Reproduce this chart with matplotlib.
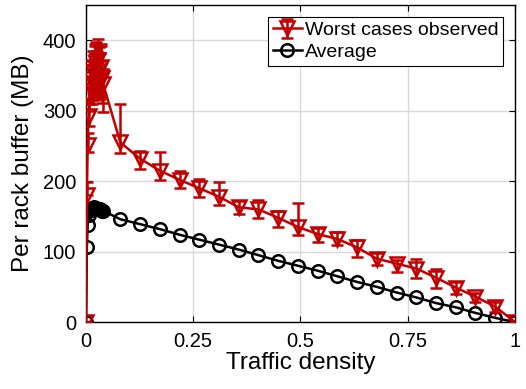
import numpy as np
import matplotlib
matplotlib.use("Agg")
import matplotlib.pyplot as plt

plt.rcParams['font.family'] = ['Liberation Sans', 'DejaVu Sans']

# traffic density
x = [0, 0.002, 0.004, 0.006, 0.008, 0.010, 0.012, 0.014, 0.016, 0.018, 0.020,
     0.022, 0.024, 0.026, 0.028, 0.030, 0.032, 0.034, 0.036, 0.038, 0.040,
     0.08, 0.126, 0.172, 0.218, 0.264, 0.31, 0.356, 0.402, 0.448, 0.494,
     0.54, 0.586, 0.632, 0.678, 0.724, 0.77, 0.816, 0.862, 0.908, 0.954, 1.0]

# worst cases observed (MB)
worst = [0, 180, 251, 293, 320, 335, 345, 330, 355, 340, 362, 350, 368, 345, 372,
         356, 342, 362, 350, 346, 338,
         255, 232, 215, 202, 190, 178, 163, 160, 148, 135,
         125, 118, 106, 90, 83, 76, 63, 49, 36, 22, 0]
worst_lo = [0, 0, 10, 15, 20, 25, 30, 20, 30, 25, 35, 30, 40, 25, 35,
            30, 25, 40, 30, 35, 40,
            15, 14, 13, 11, 12, 12, 9, 12, 13, 12,
            11, 9, 13, 9, 12, 14, 15, 9, 7, 7, 0]
worst_hi = [0, 19, 17, 20, 25, 30, 25, 35, 30, 40, 30, 45, 30, 40, 30,
            35, 40, 30, 45, 25, 20,
            54, 11, 26, 12, 13, 21, 9, 14, 10, 34,
            8, 10, 11, 8, 5, 13, 13, 8, 5, 7, 0]

# average (MB)
average = [0, 107, 138, 152, 157, 160, 161, 162, 162, 163, 162, 162, 162, 161, 161,
           160, 160, 159, 159, 158, 158,
           146, 139, 132, 124, 117, 110, 103, 95, 87, 80,
           73, 65, 57, 50, 42, 35, 27, 21, 13, 6, 0]

xticks = [0, 0.25, 0.5, 0.75, 1]
xticklabels = ['0', '0.25', '0.5', '0.75', '1']
yticks = [0, 100, 200, 300, 400]

red = '#C00000'

fig = plt.figure(figsize=(5.26, 3.89), dpi=100)
ax = fig.add_axes([0.1635, 0.172, 0.8155, 0.815])

ax.plot(x, average, '-o', color='black', lw=1.8, ms=9, mfc='none', mew=1.8,
        label='Average', zorder=3)
ax.errorbar(x, worst, yerr=[worst_lo, worst_hi], fmt='-v', color=red, ecolor=red,
            lw=1.8, elinewidth=1.8, capsize=4, capthick=1.8, ms=10.5, mfc='none',
            mew=1.8, label='Worst cases observed', zorder=4)

ax.set_xlim(0, 1)
ax.set_ylim(0, 450)
ax.set_xticks(xticks)
ax.set_xticklabels(xticklabels)
ax.set_yticks(yticks)
ax.tick_params(direction='in', top=True, right=True, labelsize=14.5, length=4, pad=7)
ax.grid(True, color='#d9d9d9', lw=1)
ax.set_axisbelow(True)
for s in ax.spines.values():
    s.set_linewidth(1)
ax.set_xlabel('Traffic density', fontsize=17.5, labelpad=1)
ax.set_ylabel('Per rack buffer (MB)', fontsize=17.5, labelpad=6)

h, l = ax.get_legend_handles_labels()
leg = ax.legend(h[::-1], l[::-1], loc='upper right', fontsize=14, fancybox=False,
                framealpha=1, edgecolor='black', borderpad=0.25, handlelength=1.5,
                handletextpad=0.15, borderaxespad=0.6, labelspacing=0.2)
leg.get_frame().set_linewidth(0.8)

fig.savefig('out.png', dpi=100)
